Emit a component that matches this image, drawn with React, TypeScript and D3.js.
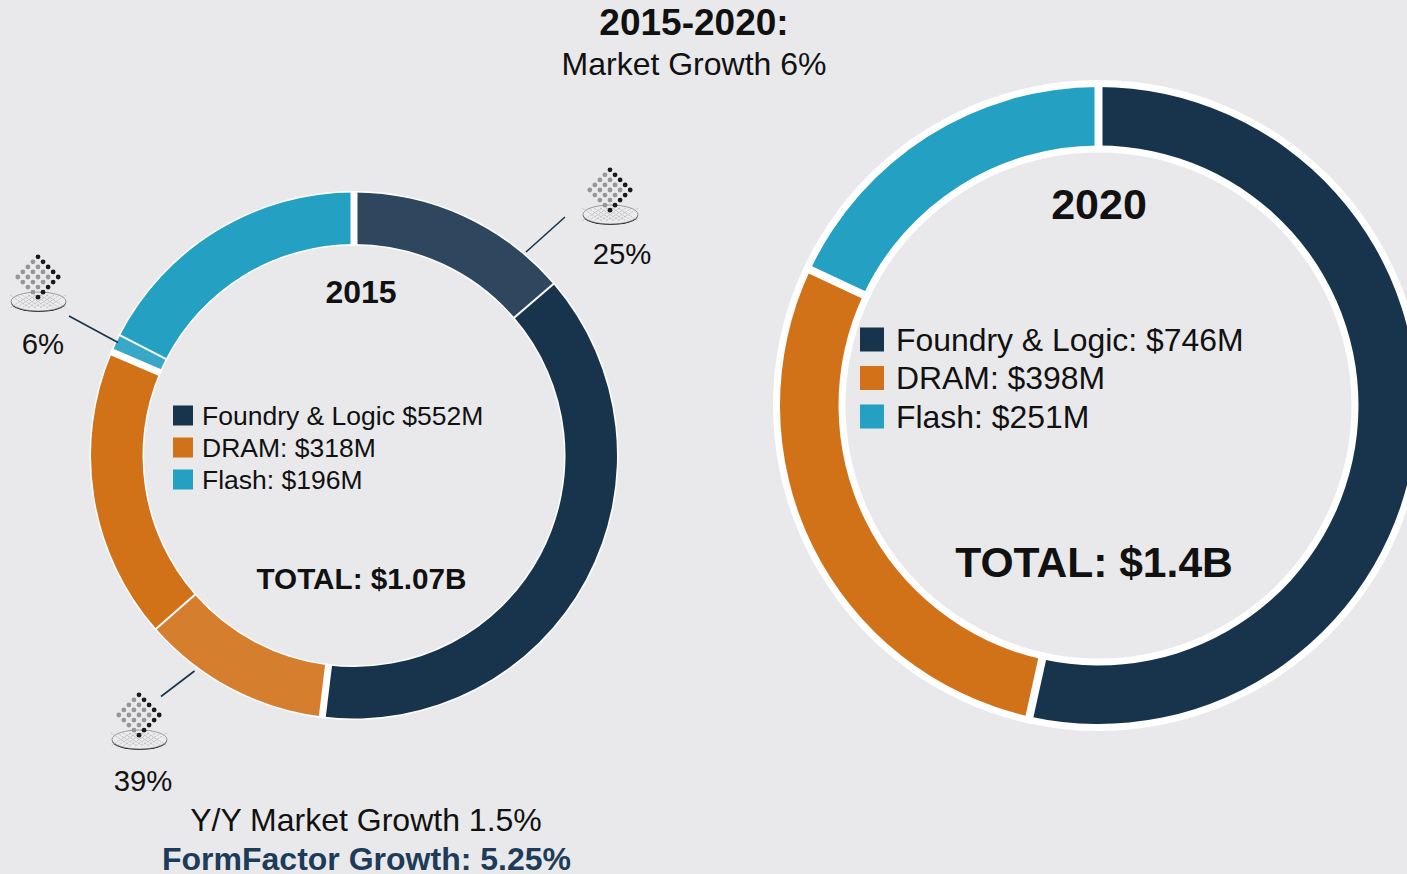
import React from "react";
import * as d3 from "d3";

const WIDTH = 1407;
const HEIGHT = 874;
const BG = "#e9e9eb";
const NAVY = "#17344c";
const ORANGE = "#d17118";
const TEAL = "#23a0c2";
const FONT = "'Liberation Sans', Arial, sans-serif";

// 2015 ring: clockwise from the top, $M. Each market is split into FormFactor's share and the rest.
const slices2015 = [
  { name: "Foundry & Logic share", value: 146, fill: "#2e465e", sep: 2 },
  { name: "Foundry & Logic", value: 407.5, fill: NAVY, sep: 7 },
  { name: "DRAM share", value: 124, fill: "#d47e2e", sep: 2 },
  { name: "DRAM", value: 190.5, fill: ORANGE, sep: 7 },
  { name: "Flash share", value: 12, fill: "#38a8c8", sep: 2 },
  { name: "Flash", value: 186, fill: TEAL, sep: 7 },
];
const slices2020 = [
  { name: "Foundry & Logic", value: 746, fill: NAVY, sep: 8 },
  { name: "DRAM", value: 398, fill: ORANGE, sep: 8 },
  { name: "Flash", value: 251, fill: TEAL, sep: 8 },
];
const legend2015 = [
  { label: "Foundry & Logic $552M", fill: NAVY },
  { label: "DRAM: $318M", fill: ORANGE },
  { label: "Flash: $196M", fill: TEAL },
];
const legend2020 = [
  { label: "Foundry & Logic: $746M", fill: NAVY },
  { label: "DRAM: $398M", fill: ORANGE },
  { label: "Flash: $251M", fill: TEAL },
];
const callouts = [
  { label: "25%", ix: 610, iy: 190, tx: 622, ty: 264, line: [526, 252, 565, 217] },
  { label: "6%", ix: 38, iy: 277, tx: 43, ty: 354, line: [69, 316, 118, 342.5] },
  { label: "39%", ix: 139, iy: 715, tx: 143, ty: 791, line: [161, 696.5, 194.5, 671] },
];
const iconGrid = d3.range(5);
const waferLines = d3.range(-3, 4);

function Icon({ x, y }: { x: number; y: number }) {
  const step = 5.05;
  return (
    <g transform={`translate(${x},${y})`}>
      <ellipse cx={0.5} cy={25.5} rx={27.5} ry={9.5} fill="#2a2a2a" />
      <ellipse cx={0.5} cy={24.5} rx={27.5} ry={9.5} fill="#ececee" stroke="#666" strokeWidth={0.6} />
      {waferLines.map((k) => (
        <line key={k} x1={k * 6 - 10} y1={18} x2={k * 6 + 10} y2={31} stroke="#a5a5a5" strokeWidth={0.6} strokeDasharray="2 1" />
      ))}
      {waferLines.map((k) => (
        <line key={`b${k}`} x1={k * 6 + 10} y1={18} x2={k * 6 - 10} y2={31} stroke="#a5a5a5" strokeWidth={0.6} strokeDasharray="2 1" />
      ))}
      {iconGrid.flatMap((i) =>
        iconGrid.map((j) => (
          <circle
            key={`${i}-${j}`}
            cx={(i + j - 4) * step}
            cy={(j - i) * step}
            r={2.4}
            fill={i === 4 || j === 4 ? "#1a1a1a" : "#969696"}
          />
        ))
      )}
    </g>
  );
}

type Slice = { name: string; value: number; fill: string; sep: number };

function Ring({ cx, cy, outer, inner, halo, slices }: { cx: number; cy: number; outer: number; inner: number; halo: number; slices: Slice[] }) {
  const pie = d3.pie<Slice>().value((d) => d.value).sort(null);
  const arcs = pie(slices);
  const arc = d3.arc<d3.PieArcDatum<Slice>>().innerRadius(inner).outerRadius(outer);
  return (
    <g transform={`translate(${cx},${cy})`}>
      <circle r={outer + halo} fill="#fff" />
      <circle r={inner - halo} fill={BG} />
      {arcs.map((a) => (
        <path key={a.data.name} d={arc(a) || ""} fill={a.data.fill} />
      ))}
      {arcs.map((a) => (
        <line
          key={a.data.name}
          x1={Math.sin(a.endAngle) * (inner - halo)}
          y1={-Math.cos(a.endAngle) * (inner - halo)}
          x2={Math.sin(a.endAngle) * (outer + halo)}
          y2={-Math.cos(a.endAngle) * (outer + halo)}
          stroke="#fff"
          strokeWidth={a.data.sep}
        />
      ))}
    </g>
  );
}

function Legend({ x, y, step, size, fontSize, gap, items }: { x: number; y: number; step: number; size: number; fontSize: number; gap: number; items: { label: string; fill: string }[] }) {
  return (
    <g>
      {items.map((d, i) => (
        <g key={d.label} transform={`translate(${x},${y + i * step})`}>
          <rect x={0} y={-size / 2} width={size} height={size} fill={d.fill} />
          <text x={size + gap} y={fontSize * 0.35} fontSize={fontSize} fill="#111">{d.label}</text>
        </g>
      ))}
    </g>
  );
}

export default function App() {
  return (
    <svg width={WIDTH} height={HEIGHT} viewBox={`0 0 ${WIDTH} ${HEIGHT}`} style={{ position: "fixed", left: 0, top: 0, background: BG }} fontFamily={FONT}>
      <rect width={WIDTH} height={HEIGHT} fill={BG} />
      <text x={694} y={35} textAnchor="middle" fontSize={37} fontWeight="bold" fill="#111">2015-2020:</text>
      <text x={694} y={75} textAnchor="middle" fontSize={32} fill="#111">Market Growth 6%</text>

      <Ring cx={354} cy={455.5} outer={263} inner={211.5} halo={1.5} slices={slices2015} />
      <Ring cx={1098.5} cy={405.5} outer={318.5} inner={260} halo={7} slices={slices2020} />

      <text x={361} y={303} textAnchor="middle" fontSize={32} fontWeight="bold" fill="#111">2015</text>
      <Legend x={173} y={415.5} step={32} size={20} fontSize={26.5} gap={9} items={legend2015} />
      <text x={361.5} y={589} textAnchor="middle" fontSize={29.7} fontWeight="bold" fill="#111">TOTAL: $1.07B</text>

      <text x={1099} y={219} textAnchor="middle" fontSize={43} fontWeight="bold" fill="#111">2020</text>
      <Legend x={860} y={339.5} step={38.5} size={24} fontSize={31.9} gap={12} items={legend2020} />
      <text x={1094} y={577} textAnchor="middle" fontSize={42.6} fontWeight="bold" fill="#111">TOTAL: $1.4B</text>

      {callouts.map((c) => (
        <g key={c.label}>
          <line x1={c.line[0]} y1={c.line[1]} x2={c.line[2]} y2={c.line[3]} stroke={NAVY} strokeWidth={1.6} />
          <Icon x={c.ix} y={c.iy} />
          <text x={c.tx} y={c.ty} textAnchor="middle" fontSize={29.3} fill="#111">{c.label}</text>
        </g>
      ))}

      <text x={366} y={831} textAnchor="middle" fontSize={32} fill="#111">Y/Y Market Growth 1.5%</text>
      <text x={366.5} y={870} textAnchor="middle" fontSize={32} fontWeight="bold" fill="#1d3c5a">FormFactor Growth: 5.25%</text>
    </svg>
  );
}
